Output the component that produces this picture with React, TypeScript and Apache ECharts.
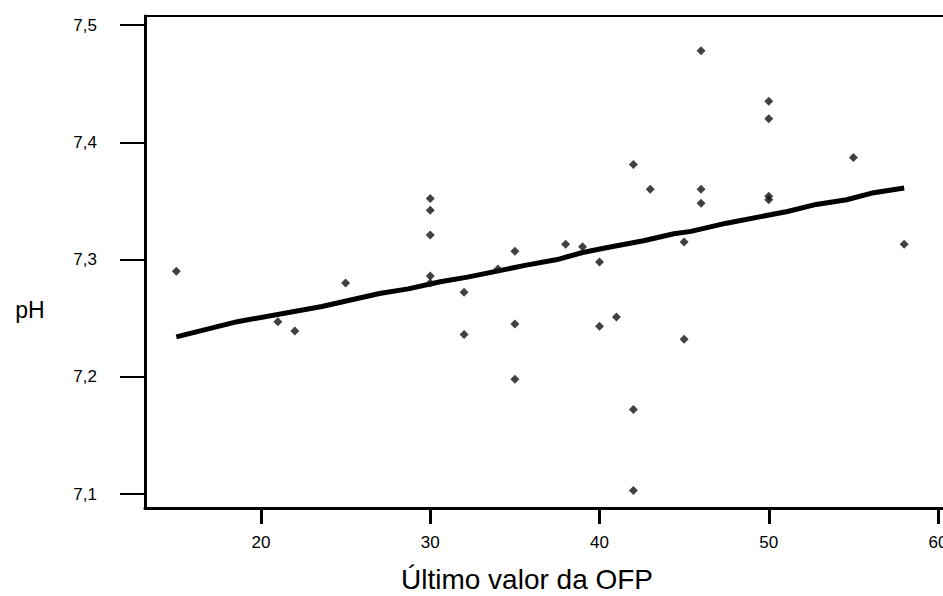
import React, { useEffect, useRef } from "react";
import * as echarts from "echarts";

const xTicks = [20, 30, 40, 50, 60];
const yTicks = [7.1, 7.2, 7.3, 7.4, 7.5];

const ofpValues = [15, 21, 22, 25, 30, 30, 30, 30, 30, 32, 32, 34, 35, 35, 35, 38, 39, 40, 40, 41, 42, 42, 42, 43, 45, 45, 46, 46, 46, 50, 50, 50, 50, 55, 58];
const phValues = [7.29, 7.247, 7.239, 7.28, 7.352, 7.342, 7.321, 7.286, 7.28, 7.272, 7.236, 7.292, 7.307, 7.245, 7.198, 7.313, 7.311, 7.298, 7.243, 7.251, 7.381, 7.172, 7.103, 7.36, 7.315, 7.232, 7.478, 7.36, 7.348, 7.435, 7.42, 7.354, 7.351, 7.387, 7.313];

const fitX = [15, 18.6, 23.6, 27.0, 28.7, 30.6, 32.2, 35.6, 37.5, 39.0, 40.4, 42.6, 44.4, 45.4, 47.5, 51.1, 52.8, 54.6, 56.2, 58];
const fitY = [7.234, 7.247, 7.26, 7.271, 7.275, 7.281, 7.285, 7.295, 7.3, 7.306, 7.31, 7.316, 7.322, 7.324, 7.331, 7.341, 7.347, 7.351, 7.357, 7.361];

const xTitle = "Último valor da OFP";
const yTitle = "pH";

const FONT = "'Liberation Sans', Arial, sans-serif";

export default function App() {
  const ref = useRef<HTMLDivElement>(null);
  useEffect(() => {
    if (!ref.current) return;
    const chart = echarts.init(ref.current, null, { renderer: "svg" });
    chart.setOption({
      animation: false,
      backgroundColor: "#ffffff",
      grid: {
        left: 145,
        top: 16,
        right: -3,
        bottom: 88,
        show: true,
        borderColor: "#000",
        borderWidth: 2,
        containLabel: false,
        outerBoundsMode: "none",
      },
      xAxis: {
        type: "value",
        min: 13.15,
        max: 60.47,
        axisLine: { show: true, onZero: false, lineStyle: { color: "#000", width: 3 } },
        axisTick: { show: true, length: 16, lineStyle: { color: "#000", width: 3 }, customValues: xTicks },
        axisLabel: {
          customValues: xTicks,
          margin: 26,
          fontSize: 17,
          color: "#000",
          fontFamily: FONT,
        },
        splitLine: { show: false },
      },
      yAxis: {
        type: "value",
        min: 7.0881,
        max: 7.5077,
        axisLine: { show: true, onZero: false, lineStyle: { color: "#000", width: 3 } },
        axisTick: { show: true, length: 25, lineStyle: { color: "#000", width: 2 }, customValues: yTicks },
        axisLabel: {
          customValues: yTicks,
          margin: 48,
          fontSize: 17,
          color: "#000",
          fontFamily: FONT,
          formatter: (v: number) => v.toFixed(1).replace(".", ","),
        },
        splitLine: { show: false },
      },
      graphic: [
        {
          type: "text",
          x: 527,
          y: 579,
          style: {
            text: xTitle,
            fontSize: 28,
            fontFamily: FONT,
            fill: "#000",
            textAlign: "center",
            textVerticalAlign: "middle",
          },
        },
        {
          type: "text",
          x: 30,
          y: 310,
          style: {
            text: yTitle,
            fontSize: 23,
            fontFamily: FONT,
            fill: "#000",
            textAlign: "center",
            textVerticalAlign: "middle",
          },
        },
      ],
      series: [
        {
          type: "line",
          data: fitX.map((x, i) => [x, fitY[i]]),
          symbol: "none",
          lineStyle: { color: "#000", width: 5 },
          z: 2,
        },
        {
          type: "scatter",
          data: ofpValues.map((x, i) => [x, phValues[i]]),
          symbol: "diamond",
          symbolSize: 9,
          itemStyle: { color: "#111" },
          z: 3,
        },
      ],
    });
    return () => chart.dispose();
  }, []);
  return (
    <div
      ref={ref}
      style={{ position: "absolute", left: 0, top: 0, width: 943, height: 596, background: "#fff" }}
    />
  );
}
